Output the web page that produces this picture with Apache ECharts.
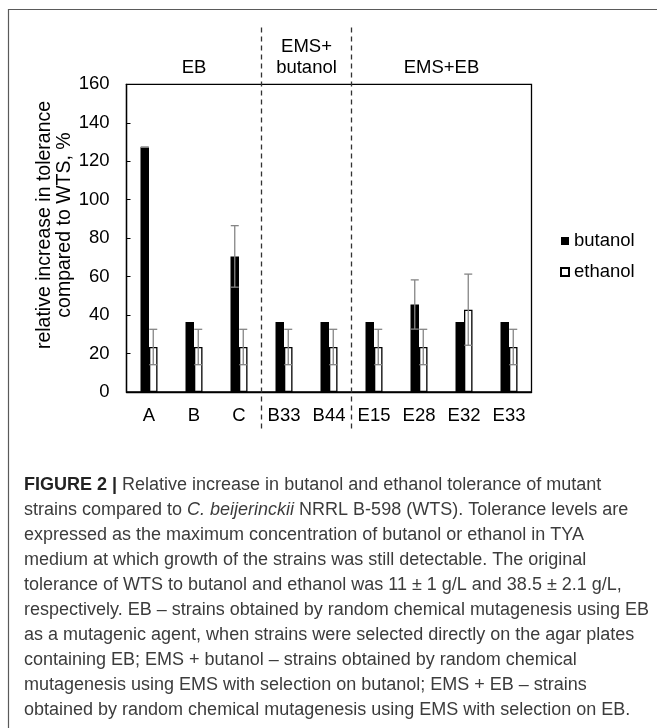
<!DOCTYPE html>
<html>
<head>
<meta charset="utf-8">
<script src="https://cdn.jsdelivr.net/npm/echarts@6/dist/echarts.min.js"></script>
<style>
html,body{margin:0;padding:0;background:#fff;}
#chart{width:657px;height:728px;}
</style>
</head>
<body>
<div id="chart"></div>
<script>
// ---- data ----
const categories = ['A', 'B', 'C', 'B33', 'B44', 'E15', 'E28', 'E32', 'E33'];
const butanol    = [127.3, 36.4, 70.5, 36.4, 36.4, 36.4, 45.5, 36.4, 36.4];
const ethanol    = [23.4, 23.4, 23.4, 23.4, 23.4, 23.4, 23.4, 42.8, 23.4];
const butanolErr = [0, null, 16, null, null, null, 12.8, null, null];
const ethanolErr = [9.2, 9.2, 9.2, 9.2, 9.2, 9.2, 9.2, 18.5, 9.2];
const groupLabels = ['EB', 'EMS+\nbutanol', 'EMS+EB'];
const groupStart  = [0, 3, 5];
const groupEnd    = [2, 4, 8];
const yMin = 0, yMax = 160, yInterval = 20;
const seriesNames = ['butanol', 'ethanol'];
const yTitle = 'relative increase in tolerance\ncompared to WTS, %';
const captionLines = [
  '{b|FIGURE 2 |} Relative increase in butanol and ethanol tolerance of mutant',
  'strains compared to {i|C. beijerinckii} NRRL B-598 (WTS). Tolerance levels are',
  'expressed as the maximum concentration of butanol or ethanol in TYA',
  'medium at which growth of the strains was still detectable. The original',
  'tolerance of WTS to butanol and ethanol was 11 \u00b1 1 g/L and 38.5 \u00b1 2.1 g/L,',
  'respectively. EB \u2013 strains obtained by random chemical mutagenesis using EB',
  'as a mutagenic agent, when strains were selected directly on the agar plates',
  'containing EB; EMS + butanol \u2013 strains obtained by random chemical',
  'mutagenesis using EMS with selection on butanol; EMS + EB \u2013 strains',
  'obtained by random chemical mutagenesis using EMS with selection on EB.'
];

// ---- chart ----
const FONT = 'Liberation Sans, Arial, sans-serif';
const FS = 18.5;
const CAP_FS = 18;
const BAR_W = 8.5;
const chart = echarts.init(document.getElementById('chart'), null, {renderer: 'canvas'});

const errData = [];
butanolErr.forEach((e, i) => { if (e !== null) errData.push([i, butanol[i], e, -1]); });
ethanolErr.forEach((e, i) => { if (e !== null) errData.push([i, ethanol[i], e, 1]); });

function renderErr(params, api) {
  const i = api.value(0), v = api.value(1), e = api.value(2), s = api.value(3);
  const c = api.coord([i, v]);
  const hi = api.coord([i, v + e]);
  const lo = api.coord([i, v - e]);
  const x = c[0] + s * BAR_W / 2;
  const cap = 4;
  const st = {stroke: '#858585', lineWidth: 1.3};
  return {
    type: 'group',
    children: [
      {type: 'line', shape: {x1: x, y1: hi[1], x2: x, y2: lo[1]}, style: st},
      {type: 'line', shape: {x1: x - cap, y1: hi[1], x2: x + cap, y2: hi[1]}, style: st},
      {type: 'line', shape: {x1: x - cap, y1: lo[1], x2: x + cap, y2: lo[1]}, style: st}
    ]
  };
}

const option = {
  animation: false,
  textStyle: {fontFamily: FONT},
  grid: {left: 126.5, right: 125.5, top: 84.3, bottom: 336, show: true,
         borderColor: '#000', borderWidth: 1.3, backgroundColor: 'transparent'},
  legend: {
    data: seriesNames, orient: 'vertical', left: 555, top: 226.5,
    itemWidth: 8, itemHeight: 8, itemGap: 12, icon: 'rect',
    textStyle: {fontSize: FS, color: '#000', fontFamily: FONT}
  },
  xAxis: {
    type: 'category', data: categories,
    axisLine: {show: true, lineStyle: {color: '#000', width: 1.3}},
    axisTick: {show: false},
    axisLabel: {fontSize: FS, color: '#000', margin: 14, fontFamily: FONT}
  },
  yAxis: {
    type: 'value', min: yMin, max: yMax, interval: yInterval,
    axisLine: {show: true, lineStyle: {color: '#000', width: 1.3}},
    axisTick: {show: true, inside: true, length: 4, lineStyle: {color: '#000'}},
    splitLine: {show: false},
    axisLabel: {fontSize: FS, color: '#000', margin: 17, fontFamily: FONT}
  },
  series: [
    {name: seriesNames[0], type: 'bar', data: butanol, barWidth: BAR_W, barGap: '0%',
     itemStyle: {color: '#000', borderColor: '#000', borderWidth: 0}},
    {name: seriesNames[1], type: 'bar', data: ethanol, barWidth: BAR_W, barGap: '0%',
     itemStyle: {color: '#fff', borderColor: '#000', borderWidth: 1.3}},
    {name: 'err', type: 'custom', data: errData, renderItem: renderErr, z: 5,
     encode: {x: 0, y: 1}, silent: true}
  ]
};
chart.setOption(option);

// ---- decorations positioned from the chart's own scales ----
const px = i => chart.convertToPixel({xAxisIndex: 0}, i);
const yTop = chart.convertToPixel({yAxisIndex: 0}, yMax);
const graphics = [];

graphics.push({type: 'rect', shape: {x: 8.5, y: 9.5, width: 700, height: 800},
  style: {fill: 'none', stroke: '#5a5a5a', lineWidth: 1.2}, silent: true});

// group separators
for (let g = 1; g < groupStart.length; g++) {
  const x = (px(groupStart[g] - 1) + px(groupStart[g])) / 2;
  graphics.push({type: 'line', shape: {x1: x, y1: 27.5, x2: x, y2: 432},
    style: {stroke: '#333', lineWidth: 1.3, lineDash: [5, 4]}, z: 10});
}
// group labels
groupLabels.forEach((lab, g) => {
  const cx = (px(groupStart[g]) + px(groupEnd[g])) / 2;
  const lines = lab.split('\n').length;
  graphics.push({type: 'text', x: cx, y: yTop - 16 - (lines - 1) * 10.8,
    style: {text: lab, fontSize: FS, fontFamily: FONT, fill: '#000',
            align: 'center', verticalAlign: 'middle', lineHeight: 21.6}});
});
// y-axis title
graphics.push({type: 'text', x: 54.5, y: 225, rotation: Math.PI / 2,
  style: {text: yTitle, fontSize: 19.5, fontFamily: FONT, fill: '#000',
          align: 'center', verticalAlign: 'middle', lineHeight: 19.5}});
// caption
captionLines.forEach((ln, k) => {
  graphics.push({type: 'text', x: 24, y: 485 + k * 25,
    style: {text: ln, fontSize: CAP_FS, fontFamily: FONT, fill: '#3c3c3c',
            align: 'left', verticalAlign: 'middle',
            rich: {
              b: {fontWeight: 'bold', fontSize: CAP_FS, fontFamily: FONT, fill: '#222'},
              i: {fontStyle: 'italic', fontSize: CAP_FS, fontFamily: FONT, fill: '#3c3c3c'}
            }}});
});
chart.setOption({graphic: graphics});
</script>
</body>
</html>
